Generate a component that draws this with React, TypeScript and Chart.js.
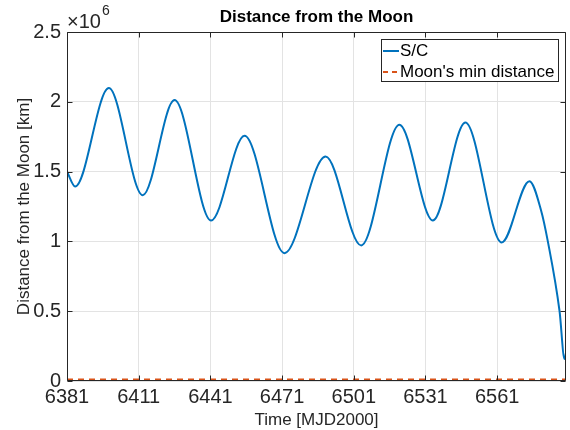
import React, { useEffect, useRef } from "react";
import { Chart, registerables } from "chart.js";

Chart.register(...registerables);

// S/C distance from the Moon, in units of 10^6 km
const scDays = [
  6381, 6384.4, 6398.5, 6412.7, 6426.0, 6441.3, 6455.3, 6472.0, 6489.2,
  6504.1, 6520.1, 6534.1, 6547.7, 6562.9, 6574.5, 6579.4, 6582.2, 6587.1,
  6589.2, 6589.8,
];
const scDistance = [
  1.5, 1.393, 2.098, 1.331, 2.012, 1.15, 1.757, 0.916, 1.609,
  0.971, 1.836, 1.15, 1.852, 0.993, 1.431, 1.22, 1.0, 0.5,
  0.157, 0.2,
];
const moonDays = [6381, 6589.8];
const moonMinDistance = [0.01, 0.01];

const xTickValues = [6381, 6411, 6441, 6471, 6501, 6531, 6561];
const yTickValues = [0, 0.5, 1, 1.5, 2, 2.5];
const xMin = 6381;
const xMax = 6589.8;

const titleText = "Distance from the Moon";
const xLabel = "Time [MJD2000]";
const yLabel = "Distance from the Moon [km]";
const legendLabels = ["S/C", "Moon's min distance"];
const exponentText = "6";

const BLUE = "#0072BD";
const ORANGE = "#D95319";
const AXIS = "#262626";
const FONT = "'Liberation Sans', Arial, Helvetica, sans-serif";

export default function App() {
  const ref = useRef<HTMLCanvasElement>(null);

  useEffect(() => {
    const canvas = ref.current;
    if (!canvas) return;

    const decor = {
      id: "matlabDecor",
      afterDraw(chart: any) {
        const { ctx, chartArea: a, scales } = chart;
        const xs = scales.x;
        const ys = scales.y;
        ctx.save();
        const seg = (x1: number, y1: number, x2: number, y2: number) => {
          ctx.beginPath();
          ctx.moveTo(x1, y1);
          ctx.lineTo(x2, y2);
          ctx.stroke();
        };
        // box
        ctx.strokeStyle = AXIS;
        ctx.lineWidth = 1;
        ctx.setLineDash([]);
        const L = Math.round(a.left) + 0.5;
        const R = Math.round(a.right) - 0.5;
        const T = Math.round(a.top) + 0.5;
        const B = Math.round(a.bottom) - 0.5;
        seg(L, T, R, T);
        seg(R, T, R, B);
        seg(R, B, L, B);
        seg(L, B, L, T);
        // inward ticks
        const tl = 5;
        xTickValues.forEach((v) => {
          const px = Math.round(xs.getPixelForValue(v)) + 0.5;
          seg(px, B, px, B - tl);
          seg(px, T, px, T + tl);
        });
        yTickValues.forEach((v) => {
          const py = Math.round(ys.getPixelForValue(v)) + 0.5;
          seg(L, py, L + tl, py);
          seg(R, py, R - tl, py);
        });

        // title
        const cx = (a.left + a.right) / 2;
        ctx.fillStyle = "#000";
        ctx.textAlign = "center";
        ctx.textBaseline = "middle";
        ctx.font = `bold 17px ${FONT}`;
        ctx.fillText(titleText, cx, 17);

        // axis labels
        ctx.fillStyle = AXIS;
        ctx.font = `17px ${FONT}`;
        ctx.fillText(xLabel, cx, 420);
        ctx.save();
        ctx.translate(24, (a.top + a.bottom) / 2);
        ctx.rotate(-Math.PI / 2);
        ctx.fillText(yLabel, 0, 0);
        ctx.restore();

        // exponent
        ctx.textAlign = "left";
        ctx.textBaseline = "alphabetic";
        ctx.font = `20px ${FONT}`;
        const base = "\u00d710";
        ctx.fillText(base, a.left, 28);
        const w = ctx.measureText(base).width;
        ctx.font = `14px ${FONT}`;
        ctx.fillText(exponentText, a.left + w + 1, 15);

        // legend
        const lx = 381, ly = 39, lw = 178, lh = 43;
        ctx.fillStyle = "#fff";
        ctx.fillRect(lx, ly, lw, lh);
        ctx.strokeStyle = AXIS;
        ctx.lineWidth = 1;
        ctx.strokeRect(lx + 0.5, ly + 0.5, lw - 1, lh - 1);
        ctx.lineWidth = 2;
        ctx.strokeStyle = BLUE;
        seg(383, 51, 399, 51);
        ctx.strokeStyle = ORANGE;
        ctx.setLineDash([5, 4]);
        seg(383, 72, 399, 72);
        ctx.setLineDash([]);
        ctx.fillStyle = "#000";
        ctx.font = `17px ${FONT}`;
        ctx.textBaseline = "middle";
        ctx.fillText(legendLabels[0], 400, 51);
        ctx.fillText(legendLabels[1], 400, 72);

        ctx.restore();
      },
    };

    const chart = new Chart(canvas, {
      type: "line",
      data: {
        datasets: [
          {
            label: legendLabels[0],
            data: scDays.map((d, i) => ({ x: d, y: scDistance[i] })),
            borderColor: BLUE,
            borderWidth: 2,
            pointRadius: 0,
            cubicInterpolationMode: "monotone",
            fill: false,
          },
          {
            label: legendLabels[1],
            data: moonDays.map((d, i) => ({ x: d, y: moonMinDistance[i] })),
            borderColor: ORANGE,
            borderWidth: 2,
            borderDash: [6, 5],
            pointRadius: 0,
            fill: false,
          },
        ],
      },
      options: {
        animation: false,
        responsive: false,
        maintainAspectRatio: false,
        layout: { padding: { left: 0, top: 32, right: 4, bottom: 0 } },
        plugins: {
          legend: { display: false },
          title: { display: false },
          tooltip: { enabled: false },
        },
        scales: {
          x: {
            type: "linear",
            min: xMin,
            max: xMax,
            afterBuildTicks: (s: any) => {
              s.ticks = xTickValues.map((v) => ({ value: v }));
            },
            afterFit: (s: any) => {
              s.height = 49;
            },
            ticks: {
              color: AXIS,
              font: { family: FONT, size: 20 },
              padding: 4,
              maxRotation: 0,
              autoSkip: false,
              callback: (v: any) => String(v),
            },
            grid: { color: "#E3E3E3", drawTicks: false, lineWidth: 1 },
            border: { display: false },
          },
          y: {
            type: "linear",
            min: 0,
            max: 2.5,
            afterBuildTicks: (s: any) => {
              s.ticks = yTickValues.map((v) => ({ value: v }));
            },
            afterFit: (s: any) => {
              s.width = 67;
            },
            ticks: {
              color: AXIS,
              font: { family: FONT, size: 20 },
              padding: 6,
              autoSkip: false,
              callback: (v: any) => String(v),
            },
            grid: { color: "#E3E3E3", drawTicks: false, lineWidth: 1 },
            border: { display: false },
          },
        },
      },
      plugins: [decor],
    } as any);

    return () => chart.destroy();
  }, []);

  return (
    <div style={{ position: "fixed", left: 0, top: 0, width: 570, height: 430, background: "#fff" }}>
      <canvas ref={ref} width={570} height={430} style={{ width: 570, height: 430, display: "block" }} />
    </div>
  );
}
